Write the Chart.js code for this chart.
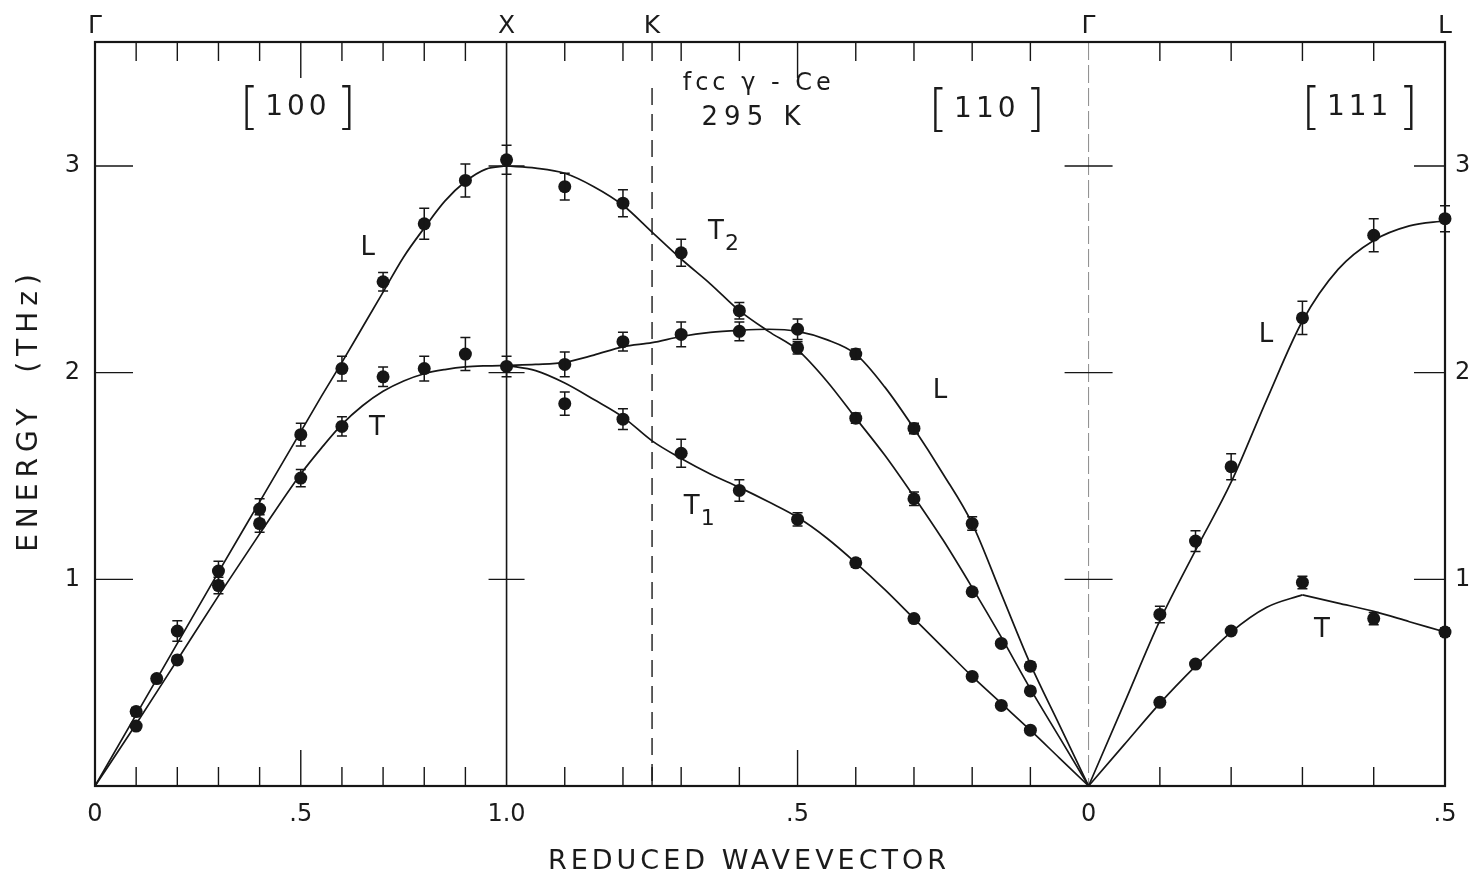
<!DOCTYPE html>
<html>
<head>
<meta charset="utf-8">
<title>fcc γ-Ce phonon dispersion</title>
<script src="https://cdn.jsdelivr.net/npm/chart.js@4.4.1/dist/chart.umd.min.js"></script>
<style>
  html, body { margin: 0; padding: 0; background: #fff; }
</style>
</head>
<body>
<canvas id="myChart" width="1481" height="879"></canvas>
<script>
// measured phonons: reduced wave vector, energy (THz), error half-width (THz)
const q100L = [0.1, 0.15, 0.2, 0.3, 0.4, 0.5, 0.6, 0.7, 0.8, 0.9, 1.0];
const e100L = [0.36, 0.52, 0.75, 1.04, 1.34, 1.70, 2.02, 2.44, 2.72, 2.93, 3.03];
const d100L = [0.02, 0.015, 0.05, 0.047, 0.05, 0.055, 0.06, 0.045, 0.075, 0.08, 0.07];

const q100T = [0.1, 0.2, 0.3, 0.4, 0.5, 0.6, 0.7, 0.8, 0.9, 1.0];
const e100T = [0.29, 0.61, 0.97, 1.27, 1.49, 1.74, 1.98, 2.02, 2.09, 2.03];
const d100T = [0, 0, 0.04, 0.042, 0.042, 0.047, 0.047, 0.06, 0.08, 0.05];

const q110T2 = [0.9, 0.8, 0.7, 0.6, 0.5, 0.4, 0.3, 0.2, 0.15, 0.1];
const e110T2 = [2.90, 2.82, 2.58, 2.30, 2.12, 1.78, 1.39, 0.94, 0.69, 0.46];
const d110T2 = [0.065, 0.065, 0.065, 0.04, 0.03, 0.025, 0.033, 0, 0, 0];

const q110L = [0.9, 0.8, 0.7, 0.6, 0.5, 0.4, 0.3, 0.2, 0.1];
const e110L = [2.04, 2.15, 2.185, 2.20, 2.21, 2.09, 1.73, 1.27, 0.58];
const d110L = [0.06, 0.045, 0.06, 0.045, 0.05, 0.025, 0.025, 0.033, 0.02];

const q110T1 = [0.9, 0.8, 0.7, 0.6, 0.5, 0.4, 0.3, 0.2, 0.15, 0.1];
const e110T1 = [1.85, 1.775, 1.61, 1.43, 1.29, 1.08, 0.81, 0.53, 0.39, 0.27];
const d110T1 = [0.056, 0.05, 0.068, 0.052, 0.032, 0.02, 0, 0, 0, 0];

const q111L = [0.1, 0.15, 0.2, 0.3, 0.4, 0.5];
const e111L = [0.83, 1.185, 1.545, 2.265, 2.665, 2.745];
const d111L = [0.04, 0.05, 0.063, 0.08, 0.08, 0.063];

const q111T = [0.1, 0.15, 0.2, 0.3, 0.4, 0.5];
const e111T = [0.405, 0.59, 0.75, 0.985, 0.81, 0.745];
const d111T = [0, 0, 0, 0.03, 0.03, 0.02];

// fitted dispersion curves
const c100Q = [0, 0.1, 0.2, 0.3, 0.4, 0.5, 0.55, 0.6, 0.65, 0.7, 0.75, 0.8, 0.85, 0.9, 0.95, 1.0];
const c100L = [0, 0.345, 0.69, 1.035, 1.375, 1.715, 1.885, 2.05, 2.22, 2.39, 2.56, 2.70, 2.83, 2.925, 2.985, 3.0];
const c100T = [0, 0.30, 0.61, 0.92, 1.22, 1.51, 1.635, 1.75, 1.84, 1.91, 1.96, 1.995, 2.015, 2.028, 2.033, 2.035];

const c110Q = [1.0, 0.95, 0.9, 0.85, 0.8, 0.75, 0.7, 0.65, 0.6, 0.55, 0.5, 0.45, 0.4, 0.35, 0.3, 0.25, 0.2, 0.15, 0.1, 0.05, 0];
const c110T2 = [3.0, 2.99, 2.965, 2.90, 2.81, 2.68, 2.55, 2.43, 2.30, 2.20, 2.11, 1.96, 1.78, 1.60, 1.40, 1.19, 0.96, 0.72, 0.47, 0.235, 0];
const c110L = [2.035, 2.04, 2.05, 2.085, 2.125, 2.145, 2.175, 2.195, 2.205, 2.21, 2.20, 2.16, 2.09, 1.93, 1.73, 1.51, 1.27, 0.93, 0.59, 0.295, 0];
const c110T1 = [2.035, 2.01, 1.95, 1.87, 1.785, 1.67, 1.585, 1.51, 1.445, 1.375, 1.30, 1.20, 1.08, 0.95, 0.81, 0.67, 0.53, 0.40, 0.27, 0.135, 0];

const c111Q = [0, 0.05, 0.1, 0.15, 0.2, 0.25, 0.3, 0.35, 0.4, 0.45, 0.5];
const c111L = [0, 0.40, 0.80, 1.14, 1.47, 1.87, 2.25, 2.50, 2.64, 2.71, 2.735];
const c111TaQ = [0, 0.05, 0.1, 0.15, 0.2, 0.25, 0.3];
const c111Ta = [0, 0.20, 0.40, 0.58, 0.745, 0.865, 0.925];
const c111TbQ = [0.3, 0.35, 0.4, 0.45, 0.5];
const c111Tb = [0.925, 0.885, 0.845, 0.795, 0.745];

// axis ticks
const yTicks = [1, 2, 3];
const minor100 = [0.1, 0.2, 0.3, 0.4, 0.5, 0.6, 0.7, 0.8, 0.9];
const minor110 = [0.1, 0.2, 0.3, 0.4, 0.5, 0.6, 0.7, 0.75, 0.8, 0.9];
const minor111 = [0.1, 0.2, 0.3, 0.4];
const botLabels = ['0', '.5', '1.0', '.5', '0', '.5'];
const topLabels = ['Γ', 'X', 'K', 'Γ', 'L'];

// path along Γ-X, X-K-Γ, Γ-L, in units of |q| (2π/a)
const SQ2 = Math.SQRT2, SQ3 = Math.sqrt(3);
function pos100(q) { return q; }
function pos110(q) { return 1 + SQ2 * (1 - q); }
function pos111(q) { return 1 + SQ2 + SQ3 * q; }
const X_END = pos111(0.5);

const botTickPos = [pos100(0), pos100(0.5), pos100(1), pos110(0.5), pos110(0), pos111(0.5)];
const topTickPos = [pos100(0), pos100(1), pos110(0.75), pos110(0), pos111(0.5)];

const INK = '#161616';
const FONT = "'DejaVu Sans', sans-serif";
Chart.defaults.font.family = FONT;
Chart.defaults.color = '#1b1b1b';

function pts(qs, es, f) {
    return qs.map((q, i) => ({ x: f(q), y: es[i] }));
}

function curveSet(qs, es, f) {
    return {
        data: pts(qs, es, f),
        borderColor: INK,
        borderWidth: 1.7,
        pointRadius: 0,
        cubicInterpolationMode: 'monotone',
        fill: false,
        order: 2,
        clip: false
    };
}

function pointSet(qs, es, ds, f) {
    return {
        data: pts(qs, es, f),
        errors: ds,
        showLine: false,
        pointRadius: 6.5,
        pointHoverRadius: 6.5,
        pointBackgroundColor: INK,
        pointBorderWidth: 0,
        order: 1,
        clip: false
    };
}

// labels placed in data units: [text, subscript, x, energy, font size, letter spacing]
const notes = [
    ['fcc γ - Ce', '', 1.608, 3.40, 24, 4],
    ['295 K', '', 1.594, 3.23, 26, 6],
    ['L', '', 0.663, 2.60, 26, 0],
    ['T', '', 0.685, 1.73, 26, 0],
    ['T', '2', 1.509, 2.68, 26, 0],
    ['T', '1', 1.450, 1.35, 26, 0],
    ['L', '', 2.053, 1.91, 26, 0],
    ['L', '', 2.845, 2.18, 26, 0],
    ['T', '', 2.981, 0.755, 26, 0]
];
const dirs = [['100', 0.493, 3.28], ['110', 2.167, 3.27], ['111', 3.073, 3.28]];

function bracketed(ctx, inner, cx, cy) {
    ctx.save();
    ctx.textBaseline = 'middle';
    ctx.textAlign = 'left';
    ctx.font = "200 50px " + FONT;
    const bw = ctx.measureText('[').width;
    ctx.font = "28px " + FONT;
    ctx.letterSpacing = '4px';
    const iw = ctx.measureText(inner).width;
    const gap = 6;
    let x0 = cx - (bw * 2 + iw + gap * 2) / 2;
    ctx.font = "200 50px " + FONT;
    ctx.letterSpacing = '0px';
    ctx.fillText('[', x0, cy + 2);
    ctx.fillText(']', x0 + bw + gap * 2 + iw, cy + 2);
    ctx.font = "28px " + FONT;
    ctx.letterSpacing = '4px';
    ctx.fillText(inner, x0 + bw + gap, cy);
    ctx.restore();
}

const framePlugin = {
    id: 'frame',
    beforeDatasetsDraw(chart) {
        const { ctx, chartArea: a, scales: { x, y } } = chart;
        ctx.save();
        ctx.strokeStyle = INK;
        ctx.lineCap = 'butt';

        // Γ line (thin, faint)
        const gx = x.getPixelForValue(pos110(0));
        ctx.strokeStyle = '#8a8a8a';
        ctx.lineWidth = 1;
        ctx.setLineDash([18, 5]);
        ctx.beginPath(); ctx.moveTo(gx, a.top); ctx.lineTo(gx, a.bottom); ctx.stroke();

        // K dashed line
        const kx = x.getPixelForValue(pos110(0.75));
        ctx.strokeStyle = '#2a2a2a';
        ctx.lineWidth = 1.5;
        ctx.setLineDash([17, 9]);
        ctx.beginPath(); ctx.moveTo(kx, a.top + 46); ctx.lineTo(kx, a.bottom); ctx.stroke();
        ctx.setLineDash([]);

        // X line
        const xx = x.getPixelForValue(pos100(1));
        ctx.strokeStyle = INK;
        ctx.lineWidth = 1.6;
        ctx.beginPath(); ctx.moveTo(xx, a.top); ctx.lineTo(xx, a.bottom); ctx.stroke();

        // crossing ticks on X and Γ lines, inward ticks on both energy axes
        ctx.lineWidth = 1.4;
        yTicks.forEach(v => {
            const py = y.getPixelForValue(v);
            ctx.beginPath();
            ctx.moveTo(xx - 18, py); ctx.lineTo(xx + 18, py);
            ctx.moveTo(gx - 24, py); ctx.lineTo(gx + 24, py);
            ctx.moveTo(a.left, py); ctx.lineTo(a.left + 38, py);
            ctx.moveTo(a.right, py); ctx.lineTo(a.right - 31, py);
            ctx.stroke();
        });

        // wave vector ticks on bottom and top edges
        const marks = [];
        minor100.forEach(q => marks.push([pos100(q), q === 0.5]));
        minor110.forEach(q => marks.push([pos110(q), q === 0.5]));
        minor111.forEach(q => marks.push([pos111(q), false]));
        ctx.beginPath();
        marks.forEach(([v, long]) => {
            const px = x.getPixelForValue(v);
            const len = long ? 36 : 19;
            ctx.moveTo(px, a.bottom); ctx.lineTo(px, a.bottom - len);
            ctx.moveTo(px, a.top); ctx.lineTo(px, a.top + len);
        });
        ctx.stroke();

        // frame
        ctx.lineWidth = 2.2;
        ctx.strokeRect(a.left, a.top, a.right - a.left, a.bottom - a.top);
        ctx.restore();
    },
    afterDatasetsDraw(chart) {
        const { ctx, scales: { x, y } } = chart;
        ctx.save();
        ctx.strokeStyle = INK;
        ctx.lineWidth = 1.5;

        // error bars
        chart.data.datasets.forEach((ds, i) => {
            if (!ds.errors) return;
            const meta = chart.getDatasetMeta(i);
            meta.data.forEach((el, j) => {
                const d = ds.errors[j];
                if (!d) return;
                const v = ds.data[j].y;
                const y1 = y.getPixelForValue(v + d);
                const y2 = y.getPixelForValue(v - d);
                ctx.beginPath();
                ctx.moveTo(el.x, y1); ctx.lineTo(el.x, y2);
                ctx.moveTo(el.x - 5, y1); ctx.lineTo(el.x + 5, y1);
                ctx.moveTo(el.x - 5, y2); ctx.lineTo(el.x + 5, y2);
                ctx.stroke();
            });
        });

        // direction labels and branch names
        ctx.fillStyle = '#1b1b1b';
        dirs.forEach(([t, vx, vy]) => bracketed(ctx, t, x.getPixelForValue(vx), y.getPixelForValue(vy)));

        ctx.textAlign = 'center';
        ctx.textBaseline = 'middle';
        notes.forEach(([t, sub, vx, vy, size, sp]) => {
            const px = x.getPixelForValue(vx), py = y.getPixelForValue(vy);
            ctx.font = size + 'px ' + FONT;
            ctx.letterSpacing = sp + 'px';
            ctx.fillText(t, px + sp / 2, py);
            if (sub) {
                const w = ctx.measureText(t).width;
                ctx.font = (size - 4) + 'px ' + FONT;
                ctx.fillText(sub, px + w / 2 + 8, py + 12);
            }
        });

        // axis titles
        ctx.font = '27px ' + FONT;
        ctx.letterSpacing = '4px';
        ctx.fillText('REDUCED WAVEVECTOR', 749, 862);
        ctx.translate(30, 413);
        ctx.rotate(-Math.PI / 2);
        ctx.font = '28px ' + FONT;
        ctx.letterSpacing = '6px';
        ctx.fillText('ENERGY  (THz)', 3, 0);
        ctx.restore();
    }
};

const noGrid = { display: false, drawTicks: false };

new Chart(document.getElementById('myChart'), {
    type: 'line',
    data: {
        datasets: [
            curveSet(c100Q, c100L, pos100),
            curveSet(c100Q, c100T, pos100),
            curveSet(c110Q, c110T2, pos110),
            curveSet(c110Q, c110L, pos110),
            curveSet(c110Q, c110T1, pos110),
            curveSet(c111Q, c111L, pos111),
            curveSet(c111TaQ, c111Ta, pos111),
            curveSet(c111TbQ, c111Tb, pos111),
            pointSet(q100L, e100L, d100L, pos100),
            pointSet(q100T, e100T, d100T, pos100),
            pointSet(q110T2, e110T2, d110T2, pos110),
            pointSet(q110L, e110L, d110L, pos110),
            pointSet(q110T1, e110T1, d110T1, pos110),
            pointSet(q111L, e111L, d111L, pos111),
            pointSet(q111T, e111T, d111T, pos111)
        ]
    },
    options: {
        responsive: false,
        animation: false,
        events: [],
        layout: { padding: 0 },
        plugins: { legend: { display: false }, tooltip: { enabled: false } },
        scales: {
            x: {
                type: 'linear', position: 'bottom', min: 0, max: X_END,
                grid: noGrid, border: { display: false },
                afterBuildTicks: s => { s.ticks = botTickPos.map(v => ({ value: v })); },
                ticks: { callback: (v, i) => botLabels[i], padding: 14, maxRotation: 0, autoSkip: false, font: { size: 24 } },
                afterFit: s => { s.height = 93; }
            },
            xTop: {
                type: 'linear', position: 'top', min: 0, max: X_END,
                grid: noGrid, border: { display: false },
                afterBuildTicks: s => { s.ticks = topTickPos.map(v => ({ value: v })); },
                ticks: { callback: (v, i) => topLabels[i], padding: 1, maxRotation: 0, autoSkip: false, font: { size: 25 } },
                afterFit: s => { s.height = 42; }
            },
            y: {
                type: 'linear', position: 'left', min: 0, max: 3.6,
                grid: noGrid, border: { display: false },
                afterBuildTicks: s => { s.ticks = yTicks.map(v => ({ value: v })); },
                ticks: { padding: 15, font: { size: 24 } },
                afterFit: s => { s.width = 95; }
            },
            yRight: {
                type: 'linear', position: 'right', min: 0, max: 3.6, display: true,
                grid: noGrid, border: { display: false },
                afterBuildTicks: s => { s.ticks = yTicks.map(v => ({ value: v })); },
                ticks: { padding: 10, font: { size: 24 } },
                afterFit: s => { s.width = 36; }
            }
        }
    },
    plugins: [framePlugin]
});
</script>
</body>
</html>
